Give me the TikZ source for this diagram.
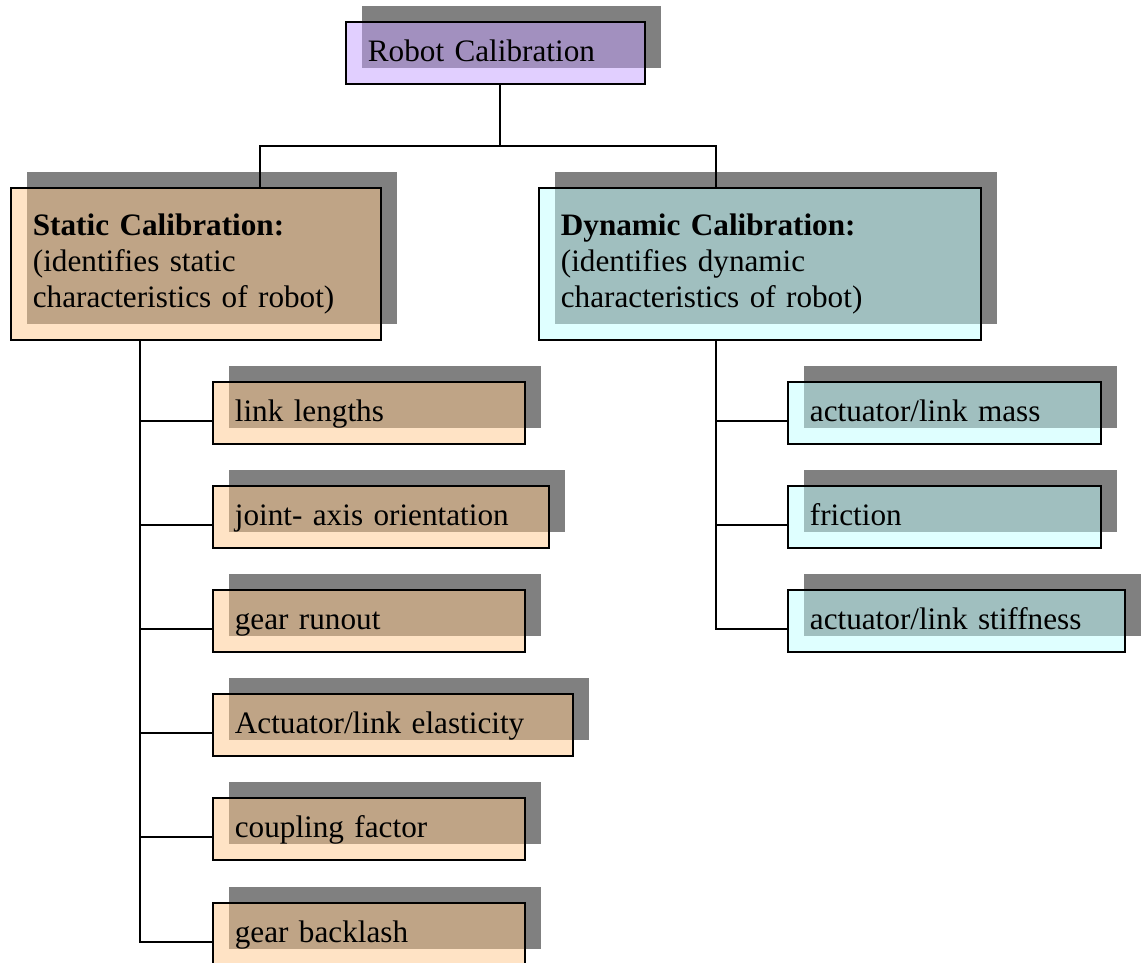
\documentclass[tikz,border=0pt]{standalone}
\usepackage{fontspec}
\setmainfont{Liberation Serif}
\usetikzlibrary{shadows}
\definecolor{shadowgray}{RGB}{128,128,128}
\definecolor{rootfill}{RGB}{196,160,255}
\definecolor{staticfill}{RGB}{255,200,140}
\definecolor{dynfill}{RGB}{192,255,255}

\begin{document}
\begin{tikzpicture}[x=0.3846pt, y=-0.3846pt,
        box/.style={rectangle, draw=black, line width=0.8pt, fill opacity=0.5, text opacity=1, anchor=north west, inner xsep=8.4pt, inner ysep=0pt, align=left, font=\fontsize{12pt}{13.8pt}\selectfont, drop shadow={shadow xshift=6.15pt, shadow yshift=6.15pt, fill=shadowgray, opacity=1}},
        item/.style={box, text height=15pt, text depth=8.85pt, text width=#1},
        group/.style={box, minimum height=58.46pt, text width=#1},
        link/.style={line width=0.8pt}
    ]
        \useasboundingbox (0,0) rectangle (1143,962);

        \node[item=98.2pt, fill=rootfill] (root) at (345,21) {Robot Calibration};

        \node[group=125.5pt, fill=staticfill] (static) at (10,187) {\textbf{Static Calibration:}\\(identifies static\\characteristics of robot)};
        \node[group=153.2pt, fill=dynfill] (dynamic) at (538,187) {\textbf{Dynamic Calibration:}\\(identifies dynamic\\characteristics of robot)};

        % static side
        \node[item=103.2pt, fill=staticfill] (s1) at (212,381) {link lengths};
        \node[item=112.4pt, fill=staticfill] (s2) at (212,485) {joint- axis orientation};
        \node[item=103.2pt, fill=staticfill] (s3) at (212,589) {gear runout};
        \node[item=121.7pt, fill=staticfill] (s4) at (212,693) {Actuator/link elasticity};
        \node[item=103.2pt, fill=staticfill] (s5) at (212,797) {coupling factor};
        \node[item=103.2pt, fill=staticfill] (s6) at (212,902) {gear backlash};

        % dynamic side
        \node[item=103.6pt, fill=dynfill] (d1) at (787,381) {actuator/link mass};
        \node[item=103.6pt, fill=dynfill] (d2) at (787,485) {friction};
        \node[item=112.8pt, fill=dynfill] (d3) at (787,589) {actuator/link stiffness};

        \coordinate (split) at (500,146);
        \coordinate (sL) at (260,146);
        \coordinate (sR) at (716,146);
        \coordinate (sT) at (140,0);
        \coordinate (dT) at (716,0);

        \draw[link] (root.south -| split) -- (split);
        \draw[link] (sL |- static.north) -- (sL) -- (sR) -- (sR |- dynamic.north);

        \draw[link] (static.south -| sT) |- (s6.base west);
        \foreach \i in {1,...,5}
            \draw[link] (sT |- s\i.base west) -- (s\i.base west);

        \draw[link] (dynamic.south -| dT) |- (d3.base west);
        \foreach \i in {1,2}
            \draw[link] (dT |- d\i.base west) -- (d\i.base west);
    \end{tikzpicture}
\end{document}
